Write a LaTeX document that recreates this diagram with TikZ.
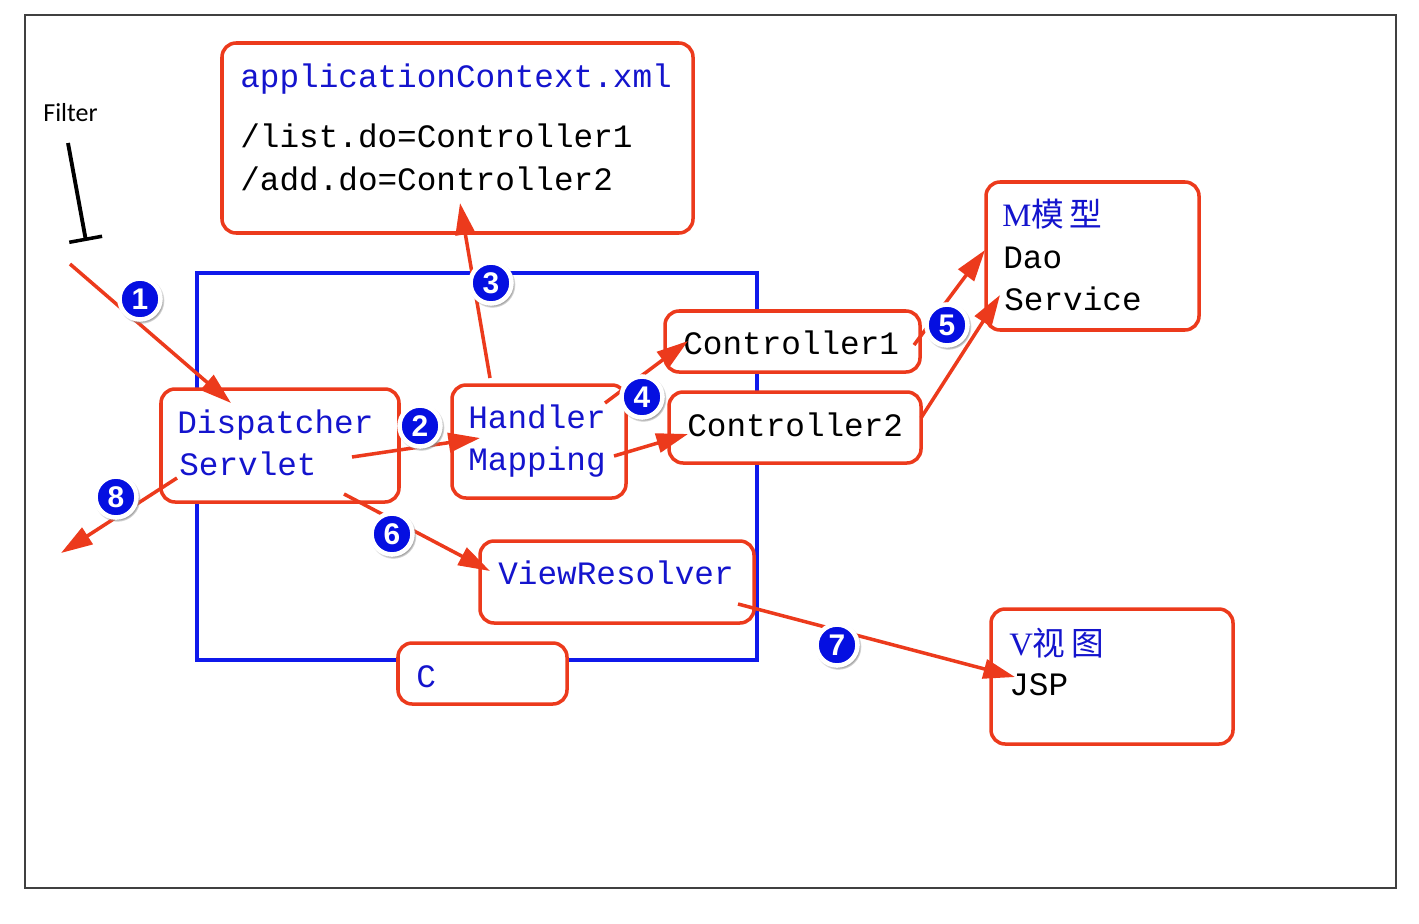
\documentclass[tikz,border=0pt]{standalone}
\usepackage{fontspec}
\setmainfont{Liberation Serif}
\setsansfont{Liberation Sans}
\setmonofont{Liberation Mono}
\newfontfamily\cjkfont{Noto Sans CJK SC}
\newfontfamily\filterfont{Carlito}
\usetikzlibrary{positioning,arrows.meta,fit,shadows}
\definecolor{boxred}{RGB}{236,58,28}
\definecolor{txtblue}{RGB}{20,20,205}
\definecolor{cblue}{RGB}{15,25,235}
\definecolor{numblue}{RGB}{5,15,225}

\begin{document}
\begin{tikzpicture}[
    x=0.02cm, y=-0.02cm,
    frame/.style={
        draw=black!75,
        line width=0.8pt
    },
    cbox/.style={
        draw=cblue,
        line width=2pt
    },
    rbox/.style={
        draw=boxred,
        fill=white,
        line width=2pt,
        rounded corners=8pt,
        inner sep=0pt
    },
    code/.style={
        font=\ttfamily\fontsize{18.6}{22}\selectfont,
        inner sep=0pt,
        anchor=base west
    },
    bcode/.style={
        code,
        text=txtblue
    },
    num/.style={
        circle,
        fill=numblue,
        draw=white,
        line width=2.6pt,
        text=white,
        font=\sffamily\bfseries\fontsize{17}{17}\selectfont,
        minimum size=0.82cm,
        inner sep=0pt,
        circular drop shadow={shadow xshift=0.6pt, shadow yshift=-0.8pt,
            shadow scale=1.14, fill=black!45}
    },
    arr/.style={
        -{Triangle[length=18pt,width=11pt]},
        boxred,
        line width=2pt
    }
]

\useasboundingbox (0,0) rectangle (1419,923);
\draw[frame] (25,15) rectangle (1396,888);

% ============================================================
% CONTROLLER AREA
% ============================================================

\draw[cbox] (197,273) rectangle (757,660);

\node[rbox, fit={(222,43) (693,233)}] (appctx) {};
\node[rbox, fit={(161,389) (399,502)}] (disp) {};
\node[rbox, fit={(452,385) (626,498)}] (hmap) {};
\node[rbox, fit={(665,311) (920,372)}] (ctrl1) {};
\node[rbox, fit={(669,392) (921,463)}] (ctrl2) {};
\node[rbox, fit={(480,541) (754,623)}] (vres) {};
\node[rbox, fit={(398,643) (567,704)}] (cbx) {};
\node[rbox, fit={(986,182) (1199,330)}] (model) {};
\node[rbox, fit={(991,609) (1233,744)}] (view) {};

% Texts
\node[bcode] (appname) at (240,87) {applicationContext.xml};
\node[code] (listdo) at (240,147) {/list.do=Controller1};
\node[code] (adddo) at (240,190) {/add.do=Controller2};

\node[bcode] (dispa) at (177,433) {Dispatcher};
\node[bcode] (dispb) at (179,475) {Servlet};
\node[bcode] (hmapa) at (468,428) {Handler};
\node[bcode] (hmapb) at (468,470) {Mapping};
\node[code] (ctrla) at (683,354) {Controller1};
\node[code] (ctrlb) at (687,436) {Controller2};
\node[bcode] (vresa) at (498,584) {ViewResolver};
\node[bcode] (cbxa) at (416,687) {C};

\node[bcode] (modela) at (1002,226) {\rmfamily M{\cjkfont 模\,型}};
\node[code] (modelb) at (1003,268) {Dao};
\node[code] (modelc) at (1004,310) {Service};
\node[bcode] (viewa) at (1009,655) {\rmfamily V{\cjkfont 视\,图}};
\node[code] (viewb) at (1009,695) {JSP};

\node[font=\filterfont\fontsize{14.8}{16}\selectfont, inner sep=0pt,
    anchor=base west] (filter) at (43,121) {Filter};

% ============================================================
% ARROWS
% ============================================================

\coordinate (in1) at (70,264);   \coordinate (d1) at (231,403);
\coordinate (d2) at (352,457);   \coordinate (h2) at (480,438);
\coordinate (h3) at (490,378);   \coordinate (a3) at (460,203);
\coordinate (h4a) at (605,403);  \coordinate (c4a) at (688,341);
\coordinate (h4b) at (614,456);  \coordinate (c4b) at (688,434);
\coordinate (c5a) at (914,345);  \coordinate (m5a) at (985,250);
\coordinate (c5b) at (921,418);  \coordinate (m5b) at (1000,295);
\coordinate (d6) at (344,494);   \coordinate (v6) at (490,571);
\coordinate (v7) at (738,604);   \coordinate (j7) at (1015,677);
\coordinate (d8) at (177,478);   \coordinate (out8) at (61,553);
\coordinate (ftop) at (68,143);  \coordinate (fend) at (86,241);

\draw[-{Bar[width=19pt,line width=2pt]}, line width=2.2pt] (ftop) -- (fend);

\draw[arr] (in1) -- (d1);
\draw[arr] (d2) -- (h2);
\draw[arr] (h3) -- (a3);
\draw[arr] (h4a) -- (c4a);
\draw[arr] (h4b) -- (c4b);
\draw[arr] (c5a) -- (m5a);
\draw[arr] (c5b) -- (m5b);
\draw[arr] (d6) -- (v6);
\draw[arr] (v7) -- (j7);
\draw[arr] (d8) -- (out8);

% Step numbers
\node[num] (n1) at (140,299) {1};
\node[num] (n2) at (420,426) {2};
\node[num] (n3) at (491,283) {3};
\node[num] (n4) at (642,397) {4};
\node[num] (n5) at (947,325) {5};
\node[num] (n6) at (392,534) {6};
\node[num] (n7) at (837,645) {7};
\node[num] (n8) at (116,497) {8};

\end{tikzpicture}
\end{document}
